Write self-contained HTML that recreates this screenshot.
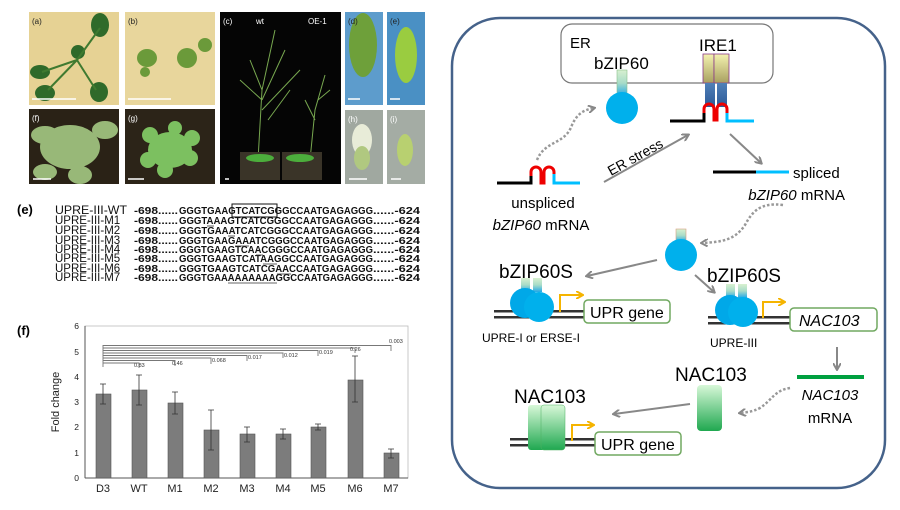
<!DOCTYPE html>
<html><head><meta charset="utf-8"><style>
html,body{margin:0;padding:0;background:#fff;}
svg{display:block;}
text{font-family:"Liberation Sans",Arial,sans-serif;}
.c{font-family:"Liberation Sans",Arial,sans-serif;}
</style></head><body>
<svg width="900" height="510" viewBox="0 0 900 510" xmlns="http://www.w3.org/2000/svg">
<defs>
<linearGradient id="stem" x1="0" y1="0" x2="0" y2="1"><stop offset="0" stop-color="#d8f0d0"/><stop offset="0.5" stop-color="#a8dcc8"/><stop offset="1" stop-color="#20a8e8"/></linearGradient>
<linearGradient id="yel" x1="0" y1="0" x2="0" y2="1"><stop offset="0" stop-color="#f4f2b0"/><stop offset="1" stop-color="#a8a060"/></linearGradient>
<linearGradient id="blu" x1="0" y1="0" x2="0" y2="1"><stop offset="0" stop-color="#5080b8"/><stop offset="1" stop-color="#2c5a98"/></linearGradient>
<linearGradient id="grn" x1="0" y1="0" x2="0" y2="1"><stop offset="0" stop-color="#d8f8d8"/><stop offset="1" stop-color="#20a850"/></linearGradient>
<marker id="ah" markerWidth="8" markerHeight="8" refX="6" refY="4" orient="auto" markerUnits="userSpaceOnUse"><path d="M0,0 L7,4 L0,8" fill="none" stroke="#888" stroke-width="2"/></marker>
<marker id="ao" markerWidth="8" markerHeight="8" refX="6" refY="4" orient="auto" markerUnits="userSpaceOnUse"><path d="M0,0 L7,4 L0,8" fill="none" stroke="#f5b400" stroke-width="2"/></marker>
</defs>

<!-- Photo panels -->
<rect x="29" y="12" width="90" height="93" fill="#e6d294"/>
<g fill="#2f6a2a"><ellipse cx="100" cy="25" rx="9" ry="12"/><ellipse cx="40" cy="72" rx="10" ry="7"/><ellipse cx="45" cy="93" rx="10" ry="8"/><ellipse cx="99" cy="92" rx="9" ry="10"/><circle cx="78" cy="52" r="7"/></g>
<g stroke="#3f7a30" stroke-width="2"><line x1="77" y1="60" x2="100" y2="28"/><line x1="77" y1="60" x2="42" y2="72"/><line x1="77" y1="60" x2="48" y2="90"/><line x1="77" y1="60" x2="96" y2="90"/></g>
<rect x="125" y="12" width="90" height="93" fill="#e8d69c"/>
<g fill="#6b9a3a"><ellipse cx="147" cy="58" rx="10" ry="9"/><ellipse cx="187" cy="58" rx="10" ry="10"/><ellipse cx="205" cy="45" rx="7" ry="7"/><ellipse cx="145" cy="72" rx="5" ry="5"/></g>
<rect x="29" y="109" width="90" height="75" fill="#2a2216"/>
<g fill="#98b878"><ellipse cx="70" cy="147" rx="30" ry="22"/><ellipse cx="45" cy="135" rx="14" ry="9"/><ellipse cx="105" cy="130" rx="13" ry="9"/><ellipse cx="80" cy="175" rx="12" ry="9"/><ellipse cx="45" cy="172" rx="12" ry="8"/></g>
<rect x="125" y="109" width="90" height="75" fill="#2c2418"/>
<g fill="#7cc060"><ellipse cx="170" cy="150" rx="22" ry="18"/><circle cx="150" cy="135" r="8"/><circle cx="192" cy="138" r="8"/><circle cx="148" cy="160" r="8"/><circle cx="190" cy="158" r="8"/><circle cx="165" cy="170" r="8"/><circle cx="175" cy="128" r="7"/></g>
<rect x="220" y="12" width="121" height="172" fill="#050505"/>
<g stroke="#78a850" stroke-width="1" fill="none"><path d="M258,160 L262,90 L250,60 M262,90 L275,30 M262,100 L285,50 M262,110 L300,70 M262,100 L240,80 M268,120 L290,90"/><path d="M310,160 L315,110 L325,75 M315,120 L305,100 M318,100 L330,90"/></g>
<rect x="240" y="152" width="40" height="28" fill="#3a3428"/><rect x="282" y="152" width="40" height="28" fill="#3a3428"/>
<g fill="#4cae3c"><ellipse cx="260" cy="158" rx="14" ry="4"/><ellipse cx="300" cy="158" rx="14" ry="4"/></g>
<rect x="345" y="12" width="38" height="93" fill="#5d9ccc"/>
<ellipse cx="363" cy="45" rx="14" ry="32" fill="#6ea03a"/>
<rect x="387" y="12" width="38" height="93" fill="#4a90c4"/>
<ellipse cx="406" cy="55" rx="11" ry="28" fill="#9acc40"/>
<rect x="345" y="110" width="38" height="74" fill="#a0a8a0"/>
<ellipse cx="362" cy="140" rx="10" ry="16" fill="#e8ecd8"/><ellipse cx="362" cy="158" rx="8" ry="12" fill="#b0c880"/>
<rect x="387" y="110" width="38" height="74" fill="#a4aca4"/>
<ellipse cx="405" cy="150" rx="8" ry="16" fill="#b8d070"/>
<g stroke="#fff" stroke-width="1.5"><line x1="32" y1="99" x2="76" y2="99"/><line x1="128" y1="99" x2="171" y2="99"/><line x1="33" y1="179" x2="51" y2="179"/><line x1="128" y1="179" x2="144" y2="179"/><line x1="348" y1="99" x2="360" y2="99"/><line x1="390" y1="99" x2="400" y2="99"/><line x1="349" y1="179" x2="367" y2="179"/><line x1="391" y1="179" x2="401" y2="179"/><line x1="225" y1="179" x2="229" y2="179"/></g>
<g font-size="8" fill="#222"><text x="32" y="24">(a)</text><text x="128" y="24">(b)</text><text x="348" y="24">(d)</text><text x="390" y="24">(e)</text></g>
<g font-size="8" fill="#fff"><text x="32" y="121">(f)</text><text x="128" y="121">(g)</text><text x="223" y="24">(c)</text><text x="256" y="24">wt</text><text x="308" y="24">OE-1</text><text x="348" y="122">(h)</text><text x="390" y="122">(i)</text></g>

<!-- (e) sequences -->
<text x="17" y="214" font-size="13" font-weight="bold">(e)</text>
<g font-size="11.5" fill="#111">
<text x="55" y="214" textLength="72" lengthAdjust="spacingAndGlyphs">UPRE-III-WT</text><text x="55" y="224">UPRE-III-M1</text><text x="55" y="234">UPRE-III-M2</text><text x="55" y="244">UPRE-III-M3</text><text x="55" y="253">UPRE-III-M4</text><text x="55" y="262">UPRE-III-M5</text><text x="55" y="272">UPRE-III-M6</text><text x="55" y="281">UPRE-III-M7</text>
</g>
<g font-size="10" font-weight="bold" fill="#111">
<text x="134" y="214" textLength="44" lengthAdjust="spacingAndGlyphs">-698......</text><text x="134" y="224" textLength="44" lengthAdjust="spacingAndGlyphs">-698......</text><text x="134" y="234" textLength="44" lengthAdjust="spacingAndGlyphs">-698......</text><text x="134" y="244" textLength="44" lengthAdjust="spacingAndGlyphs">-698......</text><text x="134" y="253" textLength="44" lengthAdjust="spacingAndGlyphs">-698......</text><text x="134" y="262" textLength="44" lengthAdjust="spacingAndGlyphs">-698......</text><text x="134" y="272" textLength="44" lengthAdjust="spacingAndGlyphs">-698......</text><text x="134" y="281" textLength="44" lengthAdjust="spacingAndGlyphs">-698......</text>
<text x="179" y="214" textLength="194" lengthAdjust="spacingAndGlyphs">GGGTGAAGTCATCGGGCCAATGAGAGGG</text>
<text x="179" y="224" textLength="194" lengthAdjust="spacingAndGlyphs">GGGTAAAGTCATCGGGCCAATGAGAGGG</text>
<text x="179" y="234" textLength="194" lengthAdjust="spacingAndGlyphs">GGGTGAAATCATCGGGCCAATGAGAGGG</text>
<text x="179" y="244" textLength="194" lengthAdjust="spacingAndGlyphs">GGGTGAAGAAATCGGGCCAATGAGAGGG</text>
<text x="179" y="253" textLength="194" lengthAdjust="spacingAndGlyphs">GGGTGAAGTCAACGGGCCAATGAGAGGG</text>
<text x="179" y="262" textLength="194" lengthAdjust="spacingAndGlyphs">GGGTGAAGTCATAAGGCCAATGAGAGGG</text>
<text x="179" y="272" textLength="194" lengthAdjust="spacingAndGlyphs">GGGTGAAGTCATCGAACCAATGAGAGGG</text>
<text x="179" y="281" textLength="194" lengthAdjust="spacingAndGlyphs">GGGTGAAAAAAAAAGGCCAATGAGAGGG</text>
<text x="373" y="214" textLength="47" lengthAdjust="spacingAndGlyphs">......-624</text><text x="373" y="224" textLength="47" lengthAdjust="spacingAndGlyphs">......-624</text><text x="373" y="234" textLength="47" lengthAdjust="spacingAndGlyphs">......-624</text><text x="373" y="244" textLength="47" lengthAdjust="spacingAndGlyphs">......-624</text><text x="373" y="253" textLength="47" lengthAdjust="spacingAndGlyphs">......-624</text><text x="373" y="262" textLength="47" lengthAdjust="spacingAndGlyphs">......-624</text><text x="373" y="272" textLength="47" lengthAdjust="spacingAndGlyphs">......-624</text><text x="373" y="281" textLength="47" lengthAdjust="spacingAndGlyphs">......-624</text>
</g>
<rect x="232" y="204" width="45" height="13" fill="none" stroke="#111" stroke-width="1"/>
<g stroke="#333" stroke-width="0.8"><line x1="207" y1="226" x2="214" y2="226"/><line x1="228" y1="236" x2="235" y2="236"/><line x1="235" y1="246" x2="249" y2="246"/><line x1="256" y1="255" x2="263" y2="255"/><line x1="263" y1="264" x2="277" y2="264"/><line x1="277" y1="274" x2="291" y2="274"/><line x1="228" y1="283" x2="277" y2="283"/></g>

<!-- (f) chart -->
<text x="17" y="335" font-size="13" font-weight="bold">(f)</text>
<g font-size="8.5" fill="#222" text-anchor="end">
<text x="79" y="329">6</text><text x="79" y="355">5</text><text x="79" y="380">4</text><text x="79" y="405">3</text><text x="79" y="430">2</text><text x="79" y="456">1</text><text x="79" y="481">0</text>
</g>
<text transform="translate(59,402) rotate(-90)" font-size="11" text-anchor="middle" fill="#222">Fold change</text>
<rect x="85" y="326" width="323" height="152" fill="none" stroke="#bbb" stroke-width="0.8"/>
<line x1="85" y1="326" x2="85" y2="478" stroke="#555"/><line x1="85" y1="478" x2="408" y2="478" stroke="#555"/>
<g fill="#7c7c7c" stroke="#555" stroke-width="0.6">
<rect x="96" y="394" width="15" height="84"/>
<rect x="132" y="390" width="15" height="88"/>
<rect x="168" y="403" width="15" height="75"/>
<rect x="204" y="430" width="15" height="48"/>
<rect x="240" y="434" width="15" height="44"/>
<rect x="276" y="434" width="15" height="44"/>
<rect x="311" y="427" width="15" height="51"/>
<rect x="348" y="380" width="15" height="98"/>
<rect x="384" y="453" width="15" height="25"/>
</g>
<g stroke="#333" stroke-width="0.8" fill="none">
<path d="M103,384V404M100,384h6M100,404h6"/><path d="M139,375V405M136,375h6M136,405h6"/><path d="M175,392V414M172,392h6M172,414h6"/>
<path d="M211,410V450M208,410h6M208,450h6"/><path d="M247,427V442M244,427h6M244,442h6"/><path d="M283,429V439M280,429h6M280,439h6"/>
<path d="M318,424V430M315,424h6M315,430h6"/><path d="M355,356V402M352,356h6M352,402h6"/><path d="M391,449V458M388,449h6M388,458h6"/>
</g>
<g stroke="#777" stroke-width="0.9" fill="none">
<path d="M103,367V345.5H391V351"/><path d="M103,348H355V353"/><path d="M103,350.5H318V356"/><path d="M103,353H283V358"/>
<path d="M103,355.5H247V361"/><path d="M103,358H211V364"/><path d="M103,360.5H175V366"/><path d="M103,363H139V368"/>
</g>
<g font-size="5.5" fill="#333">
<text x="389" y="343">0.003</text><text x="350" y="351">0.26</text><text x="319" y="354">0.019</text><text x="284" y="357">0.012</text><text x="248" y="359">0.017</text><text x="212" y="362">0.068</text><text x="172" y="365">0.46</text><text x="134" y="367">0.83</text>
</g>
<g font-size="11" fill="#222" text-anchor="middle">
<text x="103" y="492">D3</text><text x="139" y="492">WT</text><text x="175" y="492">M1</text><text x="211" y="492">M2</text><text x="247" y="492">M3</text><text x="283" y="492">M4</text><text x="318" y="492">M5</text><text x="355" y="492">M6</text><text x="391" y="492">M7</text>
</g>

<!-- Right diagram -->
<rect x="452" y="18" width="433" height="470" rx="48" fill="#fff" stroke="#45628a" stroke-width="2.5"/>
<rect x="561" y="24" width="212" height="59" rx="11" fill="#fff" stroke="#777" stroke-width="1.2"/>
<text class="c" x="570" y="48" font-size="15">ER</text>
<text class="c" x="594" y="69" font-size="17">bZIP60</text>
<text class="c" x="699" y="51" font-size="17">IRE1</text>
<rect x="617" y="70" width="10" height="26" fill="url(#stem)" stroke="#8bc08b" stroke-width="0.6"/>
<circle cx="622" cy="108" r="16" fill="#00b0ec"/>
<rect x="703" y="54" width="11" height="29" fill="url(#yel)" stroke="#8a3a8a" stroke-width="0.8"/>
<rect x="714" y="54" width="15" height="29" fill="url(#yel)" stroke="#8a3a8a" stroke-width="0.8"/>
<rect x="705" y="83" width="10" height="24" fill="url(#blu)"/><rect x="717" y="83" width="10" height="24" fill="url(#blu)"/>
<path d="M670,121H704V113" fill="none" stroke="#000" stroke-width="3"/>
<path d="M704,113V109a5,5 0 0 1 10,0V120h3V109a5,5 0 0 1 10,0V114" fill="none" stroke="#e00" stroke-width="3"/>
<path d="M727,113V121H754" fill="none" stroke="#00bfff" stroke-width="3"/>
<path d="M497,183H531V174" fill="none" stroke="#000" stroke-width="3"/>
<path d="M531,176V172a5,5 0 0 1 10,0V183h3V172a5,5 0 0 1 10,0V176" fill="none" stroke="#e00" stroke-width="3"/>
<path d="M554,174V183H580" fill="none" stroke="#00bfff" stroke-width="3"/>
<text class="c" x="543" y="208" font-size="15" text-anchor="middle">unspliced</text>
<text class="c" x="541" y="230" font-size="15" text-anchor="middle"><tspan font-style="italic">bZIP60</tspan> mRNA</text>
<path d="M537,160 C545,140 565,145 572,125 C578,112 585,110 594,108" fill="none" stroke="#999" stroke-width="2.5" stroke-dasharray="2.5,2" marker-end="url(#ah)"/>
<line x1="604" y1="182" x2="688" y2="135" stroke="#888" stroke-width="2" marker-end="url(#ah)"/>
<text class="c" transform="translate(611,176) rotate(-29)" font-size="14">ER stress</text>
<line x1="730" y1="134" x2="761" y2="163" stroke="#888" stroke-width="2" marker-end="url(#ah)"/>
<line x1="713" y1="172" x2="756" y2="172" stroke="#000" stroke-width="3"/><line x1="756" y1="172" x2="789" y2="172" stroke="#00bfff" stroke-width="3"/>
<text class="c" x="793" y="178" font-size="15">spliced</text>
<text class="c" x="845" y="200" font-size="15" text-anchor="end"><tspan font-style="italic">bZIP60</tspan> mRNA</text>
<path d="M783,205 C760,202 752,212 745,225 C735,240 722,242 702,243" fill="none" stroke="#999" stroke-width="2.5" stroke-dasharray="2.5,2" marker-end="url(#ah)"/>
<rect x="676" y="229" width="10" height="13" fill="url(#stem)" stroke="#d8a080" stroke-width="0.6"/>
<circle cx="681" cy="255" r="16" fill="#00b0ec"/>

<!-- bZIP60S left -->
<line x1="657" y1="260" x2="587" y2="276" stroke="#888" stroke-width="2" marker-end="url(#ah)"/>
<text class="c" x="499" y="278" font-size="19">bZIP60S</text>
<rect x="494" y="310" width="91" height="2.5" fill="#333"/><rect x="494" y="316" width="91" height="2.5" fill="#333"/>
<rect x="521" y="278" width="9" height="14" fill="url(#stem)"/><rect x="533" y="278" width="9" height="14" fill="url(#stem)"/>
<circle cx="525" cy="303" r="15" fill="#00a8e8"/><circle cx="539" cy="307" r="15" fill="#00b0ec"/>
<path d="M560,312V295H582" fill="none" stroke="#f5b400" stroke-width="2" marker-end="url(#ao)"/>
<rect x="584" y="300" width="86" height="23" rx="4" fill="#fff" stroke="#70a860" stroke-width="1.5"/>
<text class="c" x="590" y="318" font-size="16">UPR gene</text>
<text class="c" x="482" y="342" font-size="12">UPRE-I or ERSE-I</text>

<!-- bZIP60S right -->
<line x1="695" y1="275" x2="714" y2="292" stroke="#888" stroke-width="2" marker-end="url(#ah)"/>
<text class="c" x="707" y="282" font-size="19">bZIP60S</text>
<rect x="708" y="316" width="82" height="2.5" fill="#333"/><rect x="708" y="322" width="82" height="2.5" fill="#333"/>
<rect x="726" y="284" width="9" height="14" fill="url(#stem)"/><rect x="738" y="284" width="9" height="14" fill="url(#stem)"/>
<circle cx="730" cy="310" r="15" fill="#00a8e8"/><circle cx="743" cy="312" r="15" fill="#00b0ec"/>
<path d="M763,318V302H784" fill="none" stroke="#f5b400" stroke-width="2" marker-end="url(#ao)"/>
<rect x="790" y="308" width="87" height="23" rx="4" fill="#fff" stroke="#70a860" stroke-width="1.5"/>
<text class="c" x="799" y="326" font-size="16" font-style="italic">NAC103</text>
<text class="c" x="710" y="347" font-size="12">UPRE-III</text>
<line x1="837" y1="347" x2="837" y2="369" stroke="#888" stroke-width="2" marker-end="url(#ah)"/>
<line x1="797" y1="377" x2="864" y2="377" stroke="#00a040" stroke-width="4"/>
<text class="c" x="830" y="400" font-size="15" font-style="italic" text-anchor="middle">NAC103</text>
<text class="c" x="830" y="423" font-size="15" text-anchor="middle">mRNA</text>

<!-- NAC103 -->
<text class="c" x="675" y="381" font-size="19">NAC103</text>
<rect x="697" y="385" width="25" height="46" rx="4" fill="url(#grn)"/>
<path d="M790,388 C775,390 772,400 760,408 C752,412 748,412 740,413" fill="none" stroke="#999" stroke-width="2.5" stroke-dasharray="2.5,2" marker-end="url(#ah)"/>
<line x1="690" y1="404" x2="614" y2="414" stroke="#888" stroke-width="2" marker-end="url(#ah)"/>
<text class="c" x="514" y="403" font-size="19">NAC103</text>
<rect x="510" y="438" width="85" height="2.5" fill="#333"/><rect x="510" y="444" width="85" height="2.5" fill="#333"/>
<rect x="528" y="405" width="18" height="45" rx="3" fill="url(#grn)"/>
<rect x="541" y="405" width="24" height="45" rx="3" fill="url(#grn)" stroke="#4cb060" stroke-width="0.5"/>
<path d="M572,441V425H593" fill="none" stroke="#f5b400" stroke-width="2" marker-end="url(#ao)"/>
<rect x="595" y="432" width="86" height="23" rx="4" fill="#fff" stroke="#70a860" stroke-width="1.5"/>
<text class="c" x="601" y="450" font-size="16">UPR gene</text>
</svg>
</body></html>
